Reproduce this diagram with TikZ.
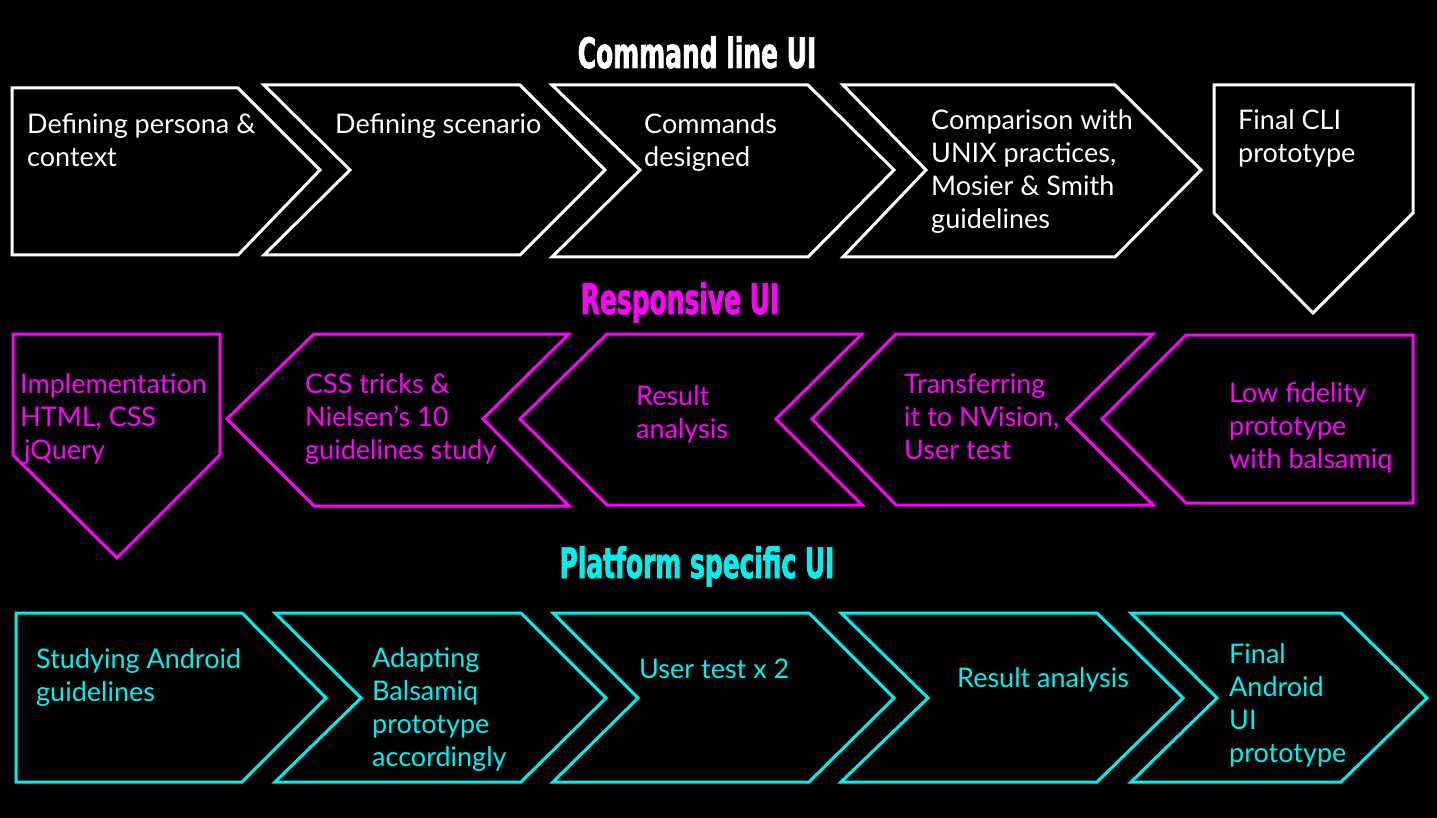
\documentclass[tikz,border=0pt]{standalone}
\usepackage{fontspec}
\setmainfont{Lato}
\newfontfamily\headfont[FakeStretch=0.66,FakeBold=1.6]{DejaVuSansCondensed-Bold.ttf}
\definecolor{webpink}{RGB}{255,0,255}
\definecolor{appcyan}{RGB}{0,240,240}

\begin{document}
\begin{tikzpicture}
    [x=1pt,y=-1pt,
     heading/.style = {anchor=base, inner sep=0pt, font=\headfont\fontsize{42}{42}\selectfont},
     steptext/.style = {anchor=base west, align=left, inner sep=0pt, font=\fontsize{27}{33}\selectfont},
     cliline/.style = {draw=white, line width=3pt},
     webline/.style = {draw=webpink, line width=3pt},
     appline/.style = {draw=appcyan, line width=3pt},
    ]

    \fill[black] (0,0) rectangle (1437,818);
    \useasboundingbox (0,0) rectangle (1437,818);

    % command line UI (text nodes sit on the baseline of their last line)
    \node[heading, white] (cli) at (697,68) {Command line UI};
    \draw[cliline] (12,88) -- (238,88) -- (320,170) -- (238,255) -- (12,255) -- cycle;
    \draw[cliline] (264,85) -- (520,85) -- (605,170) -- (520,255) -- (264,255) -- (350,170) -- cycle;
    \draw[cliline] (552,85) -- (808,85) -- (894,170) -- (808,257) -- (552,257) -- (640,170) -- cycle;
    \draw[cliline] (843,85) -- (1115,85) -- (1201,170) -- (1115,257) -- (843,257) -- (926,170) -- cycle;
    \draw[cliline] (1214,85) -- (1413,85) -- (1413,213) -- (1313,313) -- (1214,213) -- cycle;
    \node[steptext, white] (persona)  at (27,167)  {Defining persona \&\\context};
    \node[steptext, white] (scenario) at (335,134) {Defining scenario};
    \node[steptext, white] (commands) at (644,167) {Commands\\designed};
    \node[steptext, white] (unix)     at (931,229) {Comparison with\\UNIX practices,\\Mosier \& Smith\\guidelines};
    \node[steptext, white] (cliproto) at (1238,163) {Final CLI\\prototype};

    % responsive UI
    \node[heading, webpink] (web) at (680,314) {Responsive UI};
    \draw[webline] (13,334) -- (220,334) -- (220,455) -- (117,558) -- (13,455) -- cycle;
    \draw[webline] (227,419) -- (314,334) -- (569,334) -- (483,419) -- (569,506) -- (314,506) -- cycle;
    \draw[webline] (520,419) -- (607,334) -- (862,334) -- (776,419) -- (862,505) -- (607,505) -- cycle;
    \draw[webline] (812,419) -- (896,334) -- (1153,334) -- (1067,419) -- (1153,505) -- (896,505) -- cycle;
    \draw[webline] (1102,419) -- (1186,335) -- (1413,335) -- (1413,503) -- (1186,503) -- cycle;
    \node[steptext, webpink] (impl)    at (20,459)   {Implementation\\HTML, CSS\\\hspace*{4pt}jQuery};
    \node[steptext, webpink] (nielsen) at (305,459)  {CSS tricks \&\\Nielsen’s 10\\guidelines study};
    \node[steptext, webpink] (result)  at (636,438)  {Result\\analysis};
    \node[steptext, webpink] (nvision) at (904,459)  {Transferring\\it to NVision,\\User test};
    \node[steptext, webpink] (lowfi)   at (1229,468) {Low fidelity\\prototype\\with balsamiq};

    % platform specific UI
    \node[heading, appcyan] (app) at (697,578) {Platform specific UI};
    \draw[appline] (16,613) -- (242,613) -- (326,698) -- (242,782) -- (16,782) -- cycle;
    \draw[appline] (275,613) -- (521,613) -- (606,698) -- (521,782) -- (275,782) -- (361,698) -- cycle;
    \draw[appline] (553,613) -- (809,613) -- (894,698) -- (809,782) -- (553,782) -- (638,698) -- cycle;
    \draw[appline] (841,613) -- (1097,613) -- (1183,698) -- (1097,782) -- (841,782) -- (928,698) -- cycle;
    \draw[appline] (1131,613) -- (1341,613) -- (1427,698) -- (1341,782) -- (1131,782) -- (1217,698) -- cycle;
    \node[steptext, appcyan] (android)  at (36,701)   {Studying Android\\guidelines};
    \node[steptext, appcyan] (adapt)    at (372,766)  {Adapting\\Balsamiq\\prototype\\accordingly};
    \node[steptext, appcyan] (usertest) at (639,678)  {User test x 2};
    \node[steptext, appcyan] (analysis) at (957,687)  {Result analysis};
    \node[steptext, appcyan] (final)    at (1229,762) {Final\\Android\\UI\\prototype};

\end{tikzpicture}
\end{document}
